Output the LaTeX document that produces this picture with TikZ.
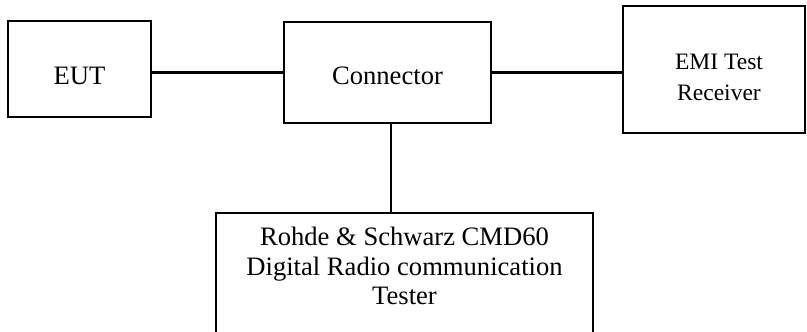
\documentclass[tikz,border=0pt]{standalone}
\usepackage{fontspec}
\setmainfont{Liberation Serif}
\usetikzlibrary{positioning}

\begin{document}
\begin{tikzpicture}[x=1bp, y=1bp,
    box/.style={draw, line width=1.6bp, inner sep=0pt,
      font=\fontsize{26.7}{29.5}\selectfont},
    wire/.style={line width=2.8bp}
    ]
    \useasboundingbox (0,0) rectangle (807,-331);
    \clip (0,0) rectangle (807,-331);
    \node[box, minimum width=143bp, minimum height=96bp,
      text height=31.6bp, text depth=0pt] (eut) at (79.5,-69) {EUT};
    \node[box, minimum width=207bp, minimum height=101bp,
      text height=24.6bp, text depth=0pt] (conn) at (387.5,-72.5) {Connector};
    \node[box, minimum width=182bp, minimum height=127bp] (emi) at (714,-69.5) {};
    \node[below=49bp of emi.north, xshift=5bp, inner sep=0pt, align=center,
      font=\fontsize{23.6}{31}\selectfont] (emitext) {EMI Test\\Receiver};
    \node[box, minimum width=377bp, minimum height=130bp] (tester) at (404.5,-278) {};
    \node[below=15bp of tester.north, inner sep=0pt, align=center,
      font=\fontsize{26.7}{29.5}\selectfont] (testertext)
      {Rohde \& Schwarz CMD60\\Digital Radio communication\\Tester};
    \draw[wire] (conn.west -| eut.east) -- (conn.west);
    \draw[wire] (conn.east) -- (conn.east -| emi.west);
    \draw[wire] ([xshift=3.5bp]conn.south) -- ([xshift=3.5bp]conn.south |- tester.north);
  \end{tikzpicture}
\end{document}
